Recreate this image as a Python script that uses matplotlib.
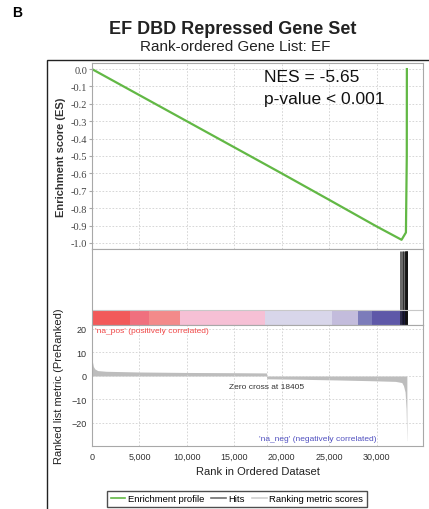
import numpy as np
import matplotlib
matplotlib.use("Agg")
import matplotlib.pyplot as plt
from matplotlib.lines import Line2D
from matplotlib.patches import Rectangle

plt.rcParams['font.family'] = ['Liberation Sans', 'DejaVu Sans']

# running enrichment score (rank, ES)
es_rank = [0, 5000, 10000, 15000, 20000, 25000, 30000, 32640, 33100, 33190, 33200]
es_val = [0.0, -0.15, -0.30, -0.45, -0.60, -0.752, -0.905, -0.982, -0.94, -0.5, 0.0]

# gene set hits (rank)
hits = [32480, 32560, 32650, 32740, 32820, 32890, 32950, 33000, 33040, 33080,
        33110, 33140, 33160, 33175, 33190, 33200, 33210]

# ranked list metric (rank, value)
rm_rank = [0, 50, 150, 300, 600, 1500, 5000, 10000, 15000, 18404, 18406, 22000,
           26000, 29300, 32000, 32660, 32840, 33010, 33120, 33190, 33200]
rm_val = [8.5, 6.0, 4.0, 3.0, 2.3, 2.0, 1.7, 1.5, 1.4, 1.3, -1.2, -1.4,
          -1.7, -2.0, -2.3, -2.8, -4.1, -6.8, -14.0, -27.5, -27.5]

# colour band segments (rank end, colour)
band_edges = [0, 4000, 6000, 9300, 18250, 25270, 28080, 29520, 32680, 33200]
band_colors = ['#f25a5a', '#f0707e', '#f38a8a', '#f6c0d5', '#d8d6ea',
               '#c3bcdc', '#7c7cba', '#5e58a8', '#2c2a80']

zero_cross = 18405
n_genes = 34900

W, H = 429, 510
fig = plt.figure(figsize=(W / 100, H / 100), dpi=100)

def fx(x):
    return x / W

def fy(y):
    return 1 - y / H

left, right = fx(92), fx(423)
grid_kw = dict(color='#d0d0d0', linestyle=(0, (2, 2)), linewidth=0.6)
spine_c = '#a8a8a8'

# outer frame
fig.patches.append(Rectangle((fx(47), -0.1), 1.2, fy(61) + 0.1, transform=fig.transFigure,
                             fill=False, edgecolor='#222222', linewidth=1.0))

fig.text(fx(12), fy(13), 'B', fontsize=10, fontweight='bold', ha='left', va='center')
fig.text(fx(233), fy(29), 'EF DBD Repressed Gene Set', fontsize=13, fontweight='bold',
         ha='center', va='center', color='#222222')
fig.text(fx(235), fy(47), 'Rank-ordered Gene List: EF', fontsize=11,
         ha='center', va='center', color='#222222')

# ES panel
ax1 = fig.add_axes([left, fy(250), right - left, fy(64) - fy(250)])
ax1.plot(es_rank, es_val, color='#62b845', linewidth=1.6)
ax1.set_xlim(0, n_genes)
ax1.set_ylim(-1.035, 0.035)
ax1.set_yticks(np.arange(0, -1.05, -0.1))
ax1.set_yticklabels(['%.1f' % v for v in np.arange(0, -1.05, -0.1)],
                    fontfamily='Liberation Serif', fontsize=7.5, color='#444444')
ax1.set_xticks(np.arange(0, 35000, 5000))
ax1.tick_params(axis='x', length=0, labelbottom=False)
ax1.tick_params(axis='y', length=2, color=spine_c, pad=1.5)
ax1.grid(True, **grid_kw)
for s in ax1.spines.values():
    s.set_color(spine_c)
ax1.set_ylabel('Enrichment score (ES)', fontsize=8, fontweight='bold', color='#333333', labelpad=3)
ax1.text(0.52, 0.93, 'NES = -5.65', transform=ax1.transAxes, fontsize=12.5,
         ha='left', va='center', color='#111111')
ax1.text(0.52, 0.81, 'p-value < 0.001', transform=ax1.transAxes, fontsize=12.5,
         ha='left', va='center', color='#111111')

# hits + colour band panel
ax2 = fig.add_axes([left, fy(326), right - left, fy(250) - fy(326)])
ax2.set_xlim(0, n_genes)
ax2.set_ylim(0, 1)
band_top = 15 / 76
for i, c in enumerate(band_colors):
    ax2.fill_between([band_edges[i], band_edges[i + 1]], 0, band_top, color=c, linewidth=0)
ax2.vlines(hits, 0, 0.97, color='#111111', linewidth=0.45)
ax2.axhline(band_top, color='#c8c8c8', linewidth=0.8)
ax2.set_xticks([])
ax2.set_yticks([])
for s in ax2.spines.values():
    s.set_color(spine_c)

# ranked list metric panel
ax3 = fig.add_axes([left, fy(447), right - left, fy(326) - fy(447)])
ax3.fill_between(rm_rank, 0, rm_val, color='#bdbdbd', linewidth=0)
ax3.set_xlim(0, n_genes)
ax3.set_ylim(-29.8, 21.7)
ax3.set_yticks([20, 10, 0, -10, -20])
ax3.set_xticks(np.arange(0, 35000, 5000))
ax3.set_xticklabels(['0', '5,000', '10,000', '15,000', '20,000', '25,000', '30,000'])
ax3.tick_params(labelsize=6.5, colors='#333333', length=0, pad=4)
ax3.grid(True, **grid_kw)
ax3.axvline(zero_cross, **grid_kw)
for s in ax3.spines.values():
    s.set_color(spine_c)
ax3.set_xlabel('Rank in Ordered Dataset', fontsize=8, color='#222222', labelpad=4)
ax3.set_ylabel('Ranked list metric (PreRanked)', fontsize=8, color='#222222')
ax3.yaxis.set_label_coords(-0.085, 0.5)
ax3.text(zero_cross, -4.5, 'Zero cross at 18405', fontsize=6, color='#333333',
         ha='center', va='center')
ax3.text(300, 19.5, "'na_pos' (positively correlated)", fontsize=6, color='#f04848',
         ha='left', va='center')
ax3.text(17600, -26.8, "'na_neg' (negatively correlated)", fontsize=6, color='#5050c0',
         ha='left', va='center')

handles = [Line2D([], [], color='#62b845', linewidth=1.2),
           Line2D([], [], color='#707070', linewidth=1.2),
           Line2D([], [], color='#d0d0d0', linewidth=1.2)]
fig.legend(handles, ['Enrichment profile', 'Hits', 'Ranking metric scores'],
           loc='upper center', bbox_to_anchor=(fx(237), fy(487)), ncol=3,
           fontsize=6.8, frameon=True, fancybox=False, edgecolor='#222222',
           handlelength=1.5, handletextpad=0.3, columnspacing=0.8, borderpad=0.4)

fig.savefig('out.png', dpi=100)
